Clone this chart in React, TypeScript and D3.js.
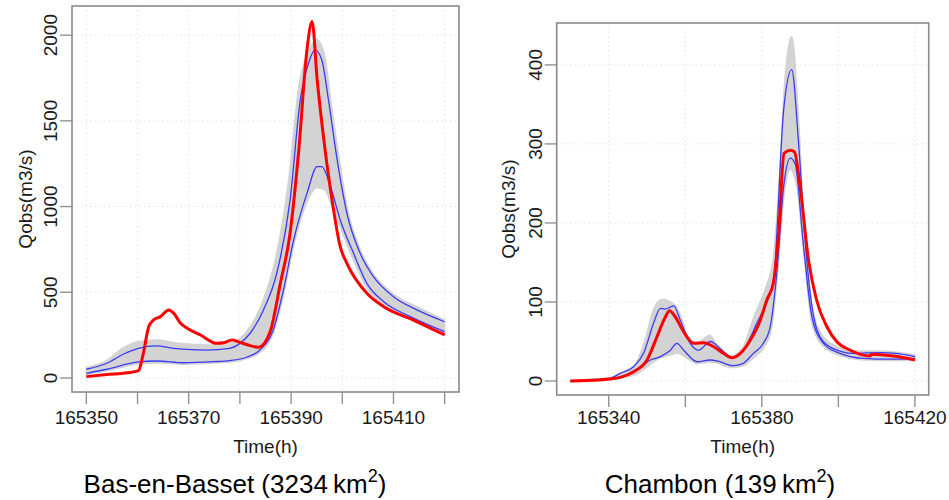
import React from "react";
import * as d3 from "d3";

type P = [number, number];

// ---------- Bas-en-Basset (left) ----------
const basXTicks = [165350, 165360, 165370, 165380, 165390, 165400, 165410, 165420];
const basXLabels = [165350, 165370, 165390, 165410];
const basYTicks = [0, 500, 1000, 1500, 2000];

const basObs: P[] = [
  [165350, 8], [165354, 20], [165358, 30], [165360.2, 43], [165361, 124], [165362.2, 300],
  [165363.1, 338], [165364.5, 358], [165366.1, 397], [165367.1, 377], [165368.4, 319],
  [165369.7, 290], [165372.3, 251], [165375.5, 202], [165376.8, 205], [165378.5, 222],
  [165380, 208], [165382, 189], [165383.6, 179], [165385.9, 270], [165387.9, 552],
  [165389.8, 844], [165391.5, 1330], [165393.1, 1914], [165394.1, 2079], [165395.1, 1739],
  [165396.4, 1389], [165398, 1038], [165399.6, 766], [165400.9, 669], [165404.8, 494],
  [165408.1, 416], [165413.9, 338], [165420, 251],
];
const basHi: P[] = [
  [165350, 51], [165354, 86], [165357.3, 140], [165360.2, 173], [165363.7, 187], [165367, 173],
  [165369.6, 167], [165373.5, 163], [165378, 173], [165380, 202], [165382, 261], [165384.6, 397],
  [165387.2, 611], [165389.8, 1038], [165391.8, 1622], [165393.4, 1836], [165394.7, 1914],
  [165396, 1855], [165397.3, 1622], [165399, 1272], [165400.9, 961], [165403.5, 727],
  [165406.1, 591], [165410, 474], [165414.6, 397], [165420, 328],
];
const basLo: P[] = [
  [165350, 27], [165354, 51], [165359.9, 92], [165363.7, 99], [165369, 89], [165374.8, 95],
  [165378, 101], [165381.3, 121], [165383.9, 163], [165386.5, 280], [165388.5, 513],
  [165390.5, 805], [165393.1, 1077], [165395.1, 1233], [165396, 1233], [165397.7, 1116],
  [165399.6, 922], [165402.2, 727], [165404.8, 552], [165408.1, 445], [165413.3, 358], [165420, 270],
];
const basBandHi: P[] = [
  [165350, 62], [165354, 102], [165357, 172], [165360, 212], [165364, 222], [165368, 202],
  [165374, 192], [165378, 202], [165380, 232], [165382, 300], [165384.5, 450], [165387, 700],
  [165389.5, 1150], [165391.5, 1700], [165393.5, 1910], [165395, 1975], [165396.5, 1890],
  [165398, 1560], [165399.5, 1260], [165401, 990], [165403.5, 750], [165406, 610],
  [165410, 490], [165415, 410], [165420, 338],
];
const basBandLo: P[] = [
  [165350, 20], [165354, 42], [165360, 80], [165364, 88], [165369, 80], [165375, 88],
  [165378, 92], [165381, 110], [165384, 150], [165386.5, 258], [165388.5, 480], [165390.5, 770],
  [165393, 1020], [165395, 1110], [165396.5, 1100], [165398, 1000], [165400, 850],
  [165402, 700], [165404.5, 540], [165408, 430], [165413, 345], [165420, 255],
];

// ---------- Chambon (right) ----------
const chaXTicks = [165340, 165360, 165380, 165400, 165420];
const chaXLabels = [165340, 165380, 165420];
const chaYTicks = [0, 100, 200, 300, 400];

const chaObs: P[] = [
  [165330, 0], [165337, 1.3], [165340, 2.5], [165343, 4.6], [165346.5, 11.8], [165350, 26.6],
  [165352.6, 56], [165354.4, 77], [165355.9, 89], [165357.4, 81], [165359.6, 62], [165362.2, 47.7],
  [165364.8, 48.5], [165367.4, 43.4], [165370, 35], [165372.2, 29.5], [165374.4, 35], [165377, 51.9],
  [165379.6, 77], [165381.3, 102.5], [165383, 123.7], [165384.4, 187], [165385.8, 288],
  [165387.4, 292], [165388.5, 290], [165390, 246], [165392.2, 153], [165394.3, 102.5],
  [165397, 68.7], [165399.6, 49.8], [165403, 39.2], [165408.3, 31.6], [165408.6, 34],
  [165414.4, 31.6], [165420, 26.6],
];
const chaHi: P[] = [
  [165330, 0], [165340, 3], [165343, 9.7], [165346.5, 18], [165349.1, 35], [165351.7, 73],
  [165353.5, 92], [165354.7, 91], [165357, 95], [165358.7, 77], [165361.3, 47.7], [165363.5, 39],
  [165366.5, 50], [165369.1, 41], [165372.2, 30], [165375.2, 39], [165378.7, 73], [165381.3, 100],
  [165383, 124], [165385.7, 343], [165387.8, 394], [165389.6, 301], [165391.3, 178], [165393.1, 94],
  [165395.2, 56], [165398.7, 41], [165403.9, 35], [165410.9, 36], [165415.2, 35], [165420, 30.8],
];
const chaLo: P[] = [
  [165330, 0], [165340, 2], [165345.6, 9.7], [165348.3, 18], [165350.9, 26.6], [165353.5, 30.8],
  [165356.1, 39], [165357.8, 47.7], [165359.6, 39], [165363.1, 24.4], [165366.5, 26.6], [165369, 24.4],
  [165372.6, 19.4], [165375, 22], [165377.8, 35], [165380.4, 47.7], [165382.2, 68.7], [165383.9, 136],
  [165385.7, 246], [165387.4, 282], [165388.7, 275], [165390.9, 170], [165393.1, 81], [165396.1, 47.7],
  [165400.4, 35], [165406.5, 28.7], [165413.5, 27.6], [165420, 28.7],
];
const chaBandHi: P[] = [
  [165330, 1], [165340, 4], [165344, 12], [165347, 22], [165349.5, 52], [165351.5, 88],
  [165354, 103], [165357, 97], [165359, 80], [165361, 52], [165363, 48], [165366.4, 58],
  [165368, 48], [165372, 32], [165375, 42], [165378, 82], [165381, 118], [165383, 155],
  [165384.5, 250], [165386, 380], [165387.8, 436], [165389.5, 340], [165391, 200], [165393, 100],
  [165395.5, 60], [165399, 45], [165404, 38], [165411, 38], [165420, 33],
];
const chaBandLo: P[] = [
  [165330, -1], [165340, 1], [165344, 5], [165347, 8], [165350, 18], [165353, 28], [165356, 33],
  [165358, 35], [165361, 27], [165363, 22], [165367, 24], [165372, 17], [165375, 19], [165378, 30],
  [165380.5, 42], [165382.5, 65], [165384, 130], [165385.7, 230], [165387.4, 268], [165389, 250],
  [165391, 160], [165393, 75], [165396, 44], [165400, 33], [165406, 27], [165413, 26], [165420, 26],
];

const FONT = "'Liberation Sans', Arial, Helvetica, sans-serif";

type PanelProps = {
  box: [number, number, number, number]; // x0, y0, x1, y1
  xDomain: [number, number];
  yDomain: [number, number];
  xTicks: number[];
  xLabels: number[];
  yTicks: number[];
  obs: P[];
  hi: P[];
  lo: P[];
  bandHi: P[];
  bandLo: P[];
  yLabelX: number;
};

function Panel(p: PanelProps) {
  const [x0, y0, x1, y1] = p.box;
  const x = d3.scaleLinear().domain(p.xDomain).range([x0, x1]);
  const y = d3.scaleLinear().domain(p.yDomain).range([y1, y0]);
  const line = d3
    .line<P>()
    .x((d) => x(d[0]))
    .y((d) => y(d[1]))
    .curve(d3.curveMonotoneX);
  const bandPath =
    (line(p.bandHi) || "") +
    (line(p.bandLo.slice().reverse()) || "").replace(/^M/, "L") +
    "Z";
  const axisColor = "#8a8a8a";
  const gridColor = "#e2e2e2";
  const tickLen = 12;
  return (
    <g>
      {p.xTicks.map((t) => (
        <line key={"gx" + t} x1={x(t)} x2={x(t)} y1={y0} y2={y1} stroke={gridColor} strokeWidth={1} strokeDasharray="1.5 3" />
      ))}
      {p.yTicks.map((t) => (
        <line key={"gy" + t} x1={x0} x2={x1} y1={y(t)} y2={y(t)} stroke={gridColor} strokeWidth={1} strokeDasharray="1.5 3" />
      ))}
      <path d={bandPath} fill="#d3d3d3" stroke="#d3d3d3" strokeWidth={1.5} />
      <path d={line(p.hi) || ""} fill="none" stroke="#3a3af5" strokeWidth={1.3} />
      <path d={line(p.lo) || ""} fill="none" stroke="#3a3af5" strokeWidth={1.3} />
      <path d={line(p.obs) || ""} fill="none" stroke="#ff0000" strokeWidth={3} strokeLinejoin="round" />
      <rect x={x0} y={y0} width={x1 - x0} height={y1 - y0} fill="none" stroke={axisColor} strokeWidth={1.6} />
      {p.xTicks.map((t) => (
        <line key={"tx" + t} x1={x(t)} x2={x(t)} y1={y1} y2={y1 + tickLen} stroke={axisColor} strokeWidth={1.3} />
      ))}
      {p.xLabels.map((t) => (
        <text key={"lx" + t} x={x(t)} y={424} textAnchor="middle" fontSize={19} fontFamily={FONT} fill="#1a1a1a">
          {t}
        </text>
      ))}
      {p.yTicks.map((t) => (
        <line key={"ty" + t} x1={x0 - tickLen} x2={x0} y1={y(t)} y2={y(t)} stroke={axisColor} strokeWidth={1.3} />
      ))}
      {p.yTicks.map((t) => (
        <text
          key={"ly" + t}
          transform={`translate(${x0 - 15},${y(t)}) rotate(-90)`}
          textAnchor="middle"
          fontSize={19}
          fontFamily={FONT}
          fill="#1a1a1a"
        >
          {t}
        </text>
      ))}
      <text x={(x0 + x1) / 2} y={453} textAnchor="middle" fontSize={19} fontFamily={FONT} fill="#1a1a1a">
        Time(h)
      </text>
      <text
        transform={`translate(${p.yLabelX},${(y0 + y1) / 2}) rotate(-90)`}
        textAnchor="middle"
        fontSize={19}
        fontFamily={FONT}
        fill="#1a1a1a"
      >
        Qobs(m3/s)
      </text>
    </g>
  );
}

function Title({ cx, name, area }: { cx: number; name: string; area: string }) {
  return (
    <text x={cx} y={493} textAnchor="middle" fontSize={26} fontFamily={FONT} fill="#000">
      {`${name} (${area}\u2009km`}
      <tspan dy={-11} fontSize={18}>2</tspan>
      <tspan dy={11}>)</tspan>
    </text>
  );
}

export default function App() {
  return (
    <svg width={949} height={500} style={{ position: "absolute", left: 0, top: 0, background: "#fff" }}>
      <rect width={949} height={500} fill="#fff" />
      <Panel
        box={[72, 6, 459, 392]}
        xDomain={[165347.2, 165422.8]}
        yDomain={[-81.7, 2170]}
        xTicks={basXTicks}
        xLabels={basXLabels}
        yTicks={basYTicks}
        obs={basObs}
        hi={basHi}
        lo={basLo}
        bandHi={basBandHi}
        bandLo={basBandLo}
        yLabelX={32}
      />
      <Panel
        box={[556.7, 23, 928.7, 395]}
        xDomain={[165326.4, 165423.6]}
        yDomain={[-17.7, 453]}
        xTicks={chaXTicks}
        xLabels={chaXLabels}
        yTicks={chaYTicks}
        obs={chaObs}
        hi={chaHi}
        lo={chaLo}
        bandHi={chaBandHi}
        bandLo={chaBandLo}
        yLabelX={515}
      />
      <Title cx={235} name="Bas-en-Basset" area="3234" />
      <Title cx={720} name="Chambon" area="139" />
    </svg>
  );
}
